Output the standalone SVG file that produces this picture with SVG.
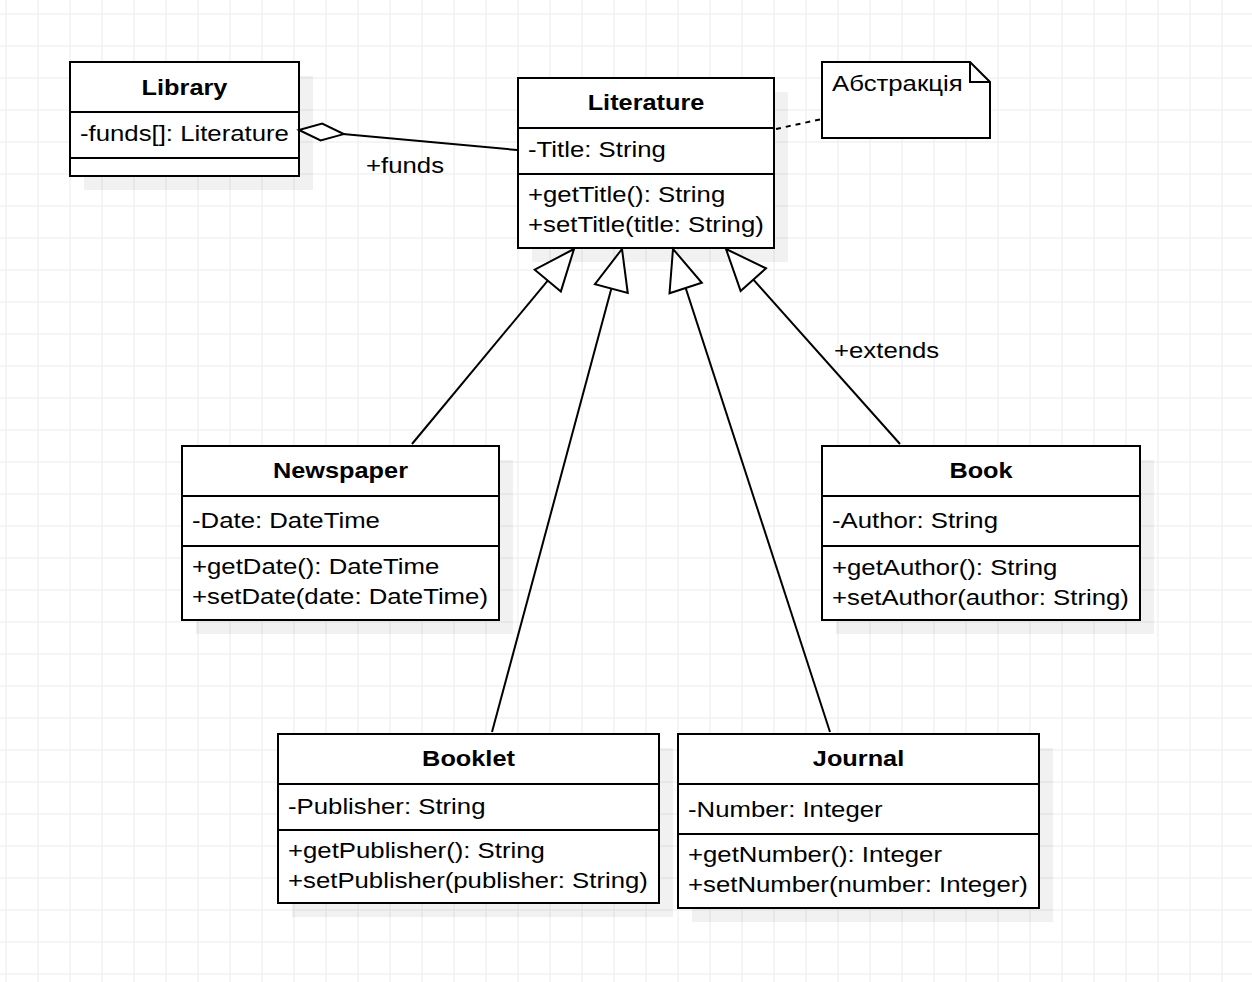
<svg xmlns="http://www.w3.org/2000/svg" width="1252" height="982" viewBox="0 0 1252 982">
<style>
.box{fill:#fff;stroke:#000;stroke-width:2}
.sep{stroke:#000;stroke-width:2}
.sh{fill:#000;fill-opacity:0.055}
.tx{font-family:"Liberation Sans",Arial,Helvetica,sans-serif;font-size:22.4px;fill:#000}
.hd{font-weight:bold;text-anchor:middle}
.cn{fill:none;stroke:#000;stroke-width:2}
</style>
<defs>
<pattern id="grid" x="-10" y="-2" width="32" height="32" patternUnits="userSpaceOnUse">
<path d="M16 0V32M0 16H32" fill="none" stroke="#ebebeb" stroke-width="1"/>
</pattern>
<marker id="gen" markerUnits="userSpaceOnUse" markerWidth="50" markerHeight="40" viewBox="-46 -20 50 40" refX="0" refY="0" orient="auto" overflow="visible">
<path d="M0,0 L-41,-17 L-41,17 Z" fill="#fff" stroke="#000" stroke-width="2"/>
</marker>
<marker id="agg" markerUnits="userSpaceOnUse" markerWidth="50" markerHeight="24" viewBox="-48 -12 50 24" refX="0" refY="0" orient="auto" overflow="visible">
<path d="M0,0 L-22.5,-8.5 L-45,0 L-22.5,8.5 Z" fill="#fff" stroke="#000" stroke-width="2"/>
</marker>
</defs>
<rect width="1252" height="982" fill="#fff"/>
<rect width="1252" height="982" fill="url(#grid)"/>

<g id="shadows">
<rect class="sh" x="84" y="76" width="229" height="114"/>
<rect class="sh" x="532" y="92" width="256" height="170"/>
<rect class="sh" x="196" y="460" width="317" height="174"/>
<rect class="sh" x="836" y="460" width="318" height="174"/>
<rect class="sh" x="292" y="748" width="381" height="169"/>
<rect class="sh" x="692" y="748" width="361" height="174"/>
</g>

<g id="Library">
<rect class="box" x="70" y="62" width="229" height="114"/>
<line class="sep" x1="70" y1="112" x2="299" y2="112"/>
<line class="sep" x1="70" y1="158" x2="299" y2="158"/>
<text class="tx hd" transform="translate(184.5 95) scale(1.13 1)">Library</text>
<text class="tx" transform="translate(80 141) scale(1.15 1)">-funds[]: Literature</text>
</g>

<g id="Literature">
<rect class="box" x="518" y="78" width="256" height="170"/>
<line class="sep" x1="518" y1="128" x2="774" y2="128"/>
<line class="sep" x1="518" y1="174" x2="774" y2="174"/>
<text class="tx hd" transform="translate(646 110) scale(1.13 1)">Literature</text>
<text class="tx" transform="translate(528 157) scale(1.15 1)">-Title: String</text>
<text class="tx" transform="translate(528 202) scale(1.15 1)">+getTitle(): String</text>
<text class="tx" transform="translate(528 232) scale(1.15 1)">+setTitle(title: String)</text>
</g>

<g id="Note">
<path class="box" d="M822,62 H970 L990,82 V138 H822 Z"/>
<path class="cn" d="M970,62 V82 H990"/>
<text class="tx" transform="translate(832 91) scale(1.15 1)">Абстракція</text>
</g>

<g id="Newspaper">
<rect class="box" x="182" y="446" width="317" height="174"/>
<line class="sep" x1="182" y1="496" x2="499" y2="496"/>
<line class="sep" x1="182" y1="546" x2="499" y2="546"/>
<text class="tx hd" transform="translate(340.5 478) scale(1.13 1)">Newspaper</text>
<text class="tx" transform="translate(192 528) scale(1.15 1)">-Date: DateTime</text>
<text class="tx" transform="translate(192 574) scale(1.15 1)">+getDate(): DateTime</text>
<text class="tx" transform="translate(192 604) scale(1.15 1)">+setDate(date: DateTime)</text>
</g>

<g id="Book">
<rect class="box" x="822" y="446" width="318" height="174"/>
<line class="sep" x1="822" y1="496" x2="1140" y2="496"/>
<line class="sep" x1="822" y1="546" x2="1140" y2="546"/>
<text class="tx hd" transform="translate(981 478) scale(1.13 1)">Book</text>
<text class="tx" transform="translate(832 528) scale(1.15 1)">-Author: String</text>
<text class="tx" transform="translate(832 575) scale(1.15 1)">+getAuthor(): String</text>
<text class="tx" transform="translate(832 605) scale(1.15 1)">+setAuthor(author: String)</text>
</g>

<g id="Booklet">
<rect class="box" x="278" y="734" width="381" height="169"/>
<line class="sep" x1="278" y1="784" x2="659" y2="784"/>
<line class="sep" x1="278" y1="830" x2="659" y2="830"/>
<text class="tx hd" transform="translate(468.5 766) scale(1.13 1)">Booklet</text>
<text class="tx" transform="translate(288 814) scale(1.15 1)">-Publisher: String</text>
<text class="tx" transform="translate(288 858) scale(1.15 1)">+getPublisher(): String</text>
<text class="tx" transform="translate(288 888) scale(1.15 1)">+setPublisher(publisher: String)</text>
</g>

<g id="Journal">
<rect class="box" x="678" y="734" width="361" height="174"/>
<line class="sep" x1="678" y1="784" x2="1039" y2="784"/>
<line class="sep" x1="678" y1="834" x2="1039" y2="834"/>
<text class="tx hd" transform="translate(858.5 766) scale(1.13 1)">Journal</text>
<text class="tx" transform="translate(688 817) scale(1.15 1)">-Number: Integer</text>
<text class="tx" transform="translate(688 862) scale(1.15 1)">+getNumber(): Integer</text>
<text class="tx" transform="translate(688 892) scale(1.15 1)">+setNumber(number: Integer)</text>
</g>

<g id="connectors">
<line class="cn" x1="517" y1="150" x2="299" y2="130" marker-end="url(#agg)"/>
<text class="tx" transform="translate(366 173) scale(1.15 1)">+funds</text>
<line class="cn" x1="776" y1="129" x2="822" y2="119" stroke-dasharray="5 5"/>
<line class="cn" x1="412" y1="444" x2="574" y2="249" marker-end="url(#gen)"/>
<line class="cn" x1="492" y1="732" x2="622" y2="249" marker-end="url(#gen)"/>
<line class="cn" x1="830" y1="732" x2="673" y2="249" marker-end="url(#gen)"/>
<line class="cn" x1="900" y1="444" x2="726" y2="249" marker-end="url(#gen)"/>
<text class="tx" transform="translate(834 358) scale(1.15 1)">+extends</text>
</g>
</svg>
